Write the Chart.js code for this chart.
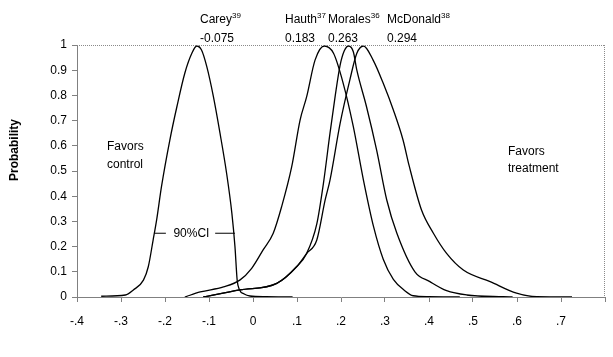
<!DOCTYPE html>
<html>
<head>
<meta charset="utf-8">
<script src="https://cdn.jsdelivr.net/npm/chart.js@4.4.0/dist/chart.umd.min.js"></script>
<style>
  html, body { margin: 0; padding: 0; background: #fff; }
  #wrap { width: 613px; height: 357px; }
</style>
</head>
<body>
<div id="wrap"><canvas id="c" width="613" height="357"></canvas></div>
<script>
// ---- data ----
const careyX = [-0.345, -0.29, -0.272, -0.249, -0.238, -0.227, -0.219, -0.208, -0.189, -0.173, -0.155, -0.139, -0.128, -0.117, -0.105, -0.09, -0.075, -0.06, -0.048, -0.041, -0.036, -0.031, -0.02, -0.007, 0.03, 0.09];
const careyY = [0.003, 0.008, 0.028, 0.067, 0.12, 0.226, 0.306, 0.438, 0.623, 0.755, 0.888, 0.967, 0.996, 0.98, 0.914, 0.795, 0.65, 0.491, 0.332, 0.2, 0.067, 0.03, 0.012, 0.004, 0.001, 0.0];

const hauthX = [-0.155, -0.12, -0.067, -0.03, -0.003, 0.023, 0.046, 0.065, 0.088, 0.107, 0.122, 0.141, 0.162, 0.183, 0.205, 0.228, 0.251, 0.274, 0.296, 0.319, 0.345, 0.364, 0.4, 0.47];
const hauthY = [0, 0.02, 0.04, 0.067, 0.114, 0.187, 0.253, 0.358, 0.517, 0.702, 0.795, 0.94, 0.996, 0.967, 0.848, 0.676, 0.464, 0.279, 0.15, 0.07, 0.025, 0.005, 0.001, 0];

const moralesX = [-0.113, -0.03, 0.054, 0.099, 0.122, 0.145, 0.16, 0.175, 0.187, 0.198, 0.207, 0.217, 0.228, 0.236, 0.258, 0.281, 0.304, 0.327, 0.368, 0.402, 0.44, 0.486, 0.569, 0.59];
const moralesY = [0, 0.028, 0.054, 0.12, 0.173, 0.29, 0.45, 0.65, 0.8, 0.92, 0.975, 0.996, 0.973, 0.9, 0.755, 0.583, 0.385, 0.253, 0.1, 0.061, 0.025, 0.008, 0.001, 0];

const mcdonaldX = [-0.113, -0.03, 0.054, 0.099, 0.122, 0.145, 0.164, 0.175, 0.198, 0.22, 0.236, 0.251, 0.273, 0.296, 0.319, 0.341, 0.355, 0.383, 0.41, 0.44, 0.478, 0.539, 0.599, 0.645, 0.725];
const mcdonaldY = [0, 0.028, 0.054, 0.12, 0.173, 0.226, 0.385, 0.464, 0.689, 0.861, 0.967, 0.996, 0.94, 0.848, 0.742, 0.623, 0.52, 0.345, 0.253, 0.173, 0.107, 0.061, 0.015, 0.001, 0];

const ciLevel = 0.253;
const ciLeftX = [-0.223, -0.198];
const ciRightX = [-0.086, -0.041];
const ciLabel = '90%CI';
const ciLabelX = -0.14;

const studyNames = ['Carey', 'Hauth', 'Morales', 'McDonald'];
const studyRefs = ['39', '37', '36', '38'];
const studyMeans = ['-0.075', '0.183', '0.263', '0.294'];

const xTickLabels = ['-.4', '-.3', '-.2', '-.1', '0', '.1', '.2', '.3', '.4', '.5', '.6', '.7', ''];
const yTickLabels = ['0', '0.1', '0.2', '0.3', '0.4', '0.5', '0.6', '0.7', '0.8', '0.9', '1'];
const yTitle = 'Probability';
const leftNote = ['Favors', 'control'];
const rightNote = ['Favors', 'treatment'];

// ---- build ----
const pts = (xs, ys) => xs.map((x, i) => ({ x: x, y: ys[i] }));
const FONT = '"Liberation Sans", Arial, Helvetica, sans-serif';
const curve = (label, xs, ys) => ({
  label, data: pts(xs, ys), borderColor: '#000', borderWidth: 1.3,
  pointRadius: 0, fill: false, cubicInterpolationMode: 'monotone'
});
const ciSeg = (label, xs) => ({
  label, data: xs.map(x => ({ x, y: ciLevel })), borderColor: '#000', borderWidth: 1,
  pointRadius: 0, fill: false
});

const decor = {
  id: 'decor',
  afterDraw(chart) {
    const ctx = chart.ctx;
    const a = chart.chartArea;
    const xs = chart.scales.x, ys = chart.scales.y;
    ctx.save();
    // dotted top and right border
    ctx.strokeStyle = '#8a8a8a';
    ctx.lineWidth = 1;
    ctx.setLineDash([1, 1]);
    ctx.beginPath();
    ctx.moveTo(a.left, a.top + 0.5); ctx.lineTo(a.right, a.top + 0.5);
    ctx.moveTo(a.right - 0.5, a.top); ctx.lineTo(a.right - 0.5, a.bottom);
    ctx.stroke();
    ctx.setLineDash([]);

    ctx.fillStyle = '#000';
    // top labels
    const lefts = [200, 285, 328, 387];
    ctx.textAlign = 'left';
    ctx.textBaseline = 'alphabetic';
    studyNames.forEach((n, i) => {
      ctx.font = '12px ' + FONT;
      ctx.fillText(n, lefts[i], 23);
      const w = ctx.measureText(n).width;
      ctx.font = '8px ' + FONT;
      ctx.fillText(studyRefs[i], lefts[i] + w, 18);
      ctx.font = '12px ' + FONT;
      ctx.fillText(studyMeans[i], lefts[i], 41.5);
    });

    // notes
    ctx.font = '12px ' + FONT;
    ctx.fillText(leftNote[0], 107, 150);
    ctx.fillText(leftNote[1], 107, 168);
    ctx.fillText(rightNote[0], 508, 155);
    ctx.fillText(rightNote[1], 508, 172);

    // CI label
    ctx.textAlign = 'center';
    ctx.textBaseline = 'middle';
    ctx.fillText(ciLabel, xs.getPixelForValue(ciLabelX), ys.getPixelForValue(ciLevel));

    // y title
    ctx.font = 'bold 12px ' + FONT;
    ctx.translate(15, 150);
    ctx.rotate(-Math.PI / 2);
    ctx.fillText(yTitle, 0, 0);
    ctx.restore();
  }
};

new Chart(document.getElementById('c'), {
  type: 'line',
  data: {
    datasets: [
      curve('Carey', careyX, careyY),
      curve('Hauth', hauthX, hauthY),
      curve('Morales', moralesX, moralesY),
      curve('McDonald', mcdonaldX, mcdonaldY),
      ciSeg('CI left', ciLeftX),
      ciSeg('CI right', ciRightX)
    ]
  },
  options: {
    responsive: false,
    devicePixelRatio: 1,
    animation: false,
    layout: { padding: { top: 45, right: 8, left: 0, bottom: 0 } },
    plugins: { legend: { display: false }, tooltip: { enabled: false } },
    scales: {
      x: {
        type: 'linear', min: -0.4, max: 0.8,
        afterFit: s => { s.height = 60; s.paddingLeft = 0; s.paddingRight = 0; },
        afterBuildTicks: s => {
          s.ticks = xTickLabels.map((t, i) => ({ value: Math.round((-0.4 + i * 0.1) * 10) / 10 }));
        },
        ticks: {
          autoSkip: false, maxRotation: 0, padding: 12, color: '#000',
          font: { family: FONT, size: 12 },
          callback: (v, i) => xTickLabels[i]
        },
        grid: { drawOnChartArea: false, drawTicks: true, tickLength: 5, color: '#808080' },
        border: { display: true, color: '#808080' }
      },
      y: {
        min: 0, max: 1,
        afterFit: s => { s.width = 77; s.paddingTop = 0; s.paddingBottom = 0; },
        afterBuildTicks: s => {
          s.ticks = yTickLabels.map((t, i) => ({ value: i / 10 }));
        },
        ticks: {
          autoSkip: false, padding: 5, color: '#000',
          font: { family: FONT, size: 12 },
          callback: (v, i) => yTickLabels[i]
        },
        grid: { drawOnChartArea: false, drawTicks: true, tickLength: 5, color: '#808080' },
        border: { display: true, color: '#808080' }
      }
    }
  },
  plugins: [decor]
});
</script>
</body>
</html>
